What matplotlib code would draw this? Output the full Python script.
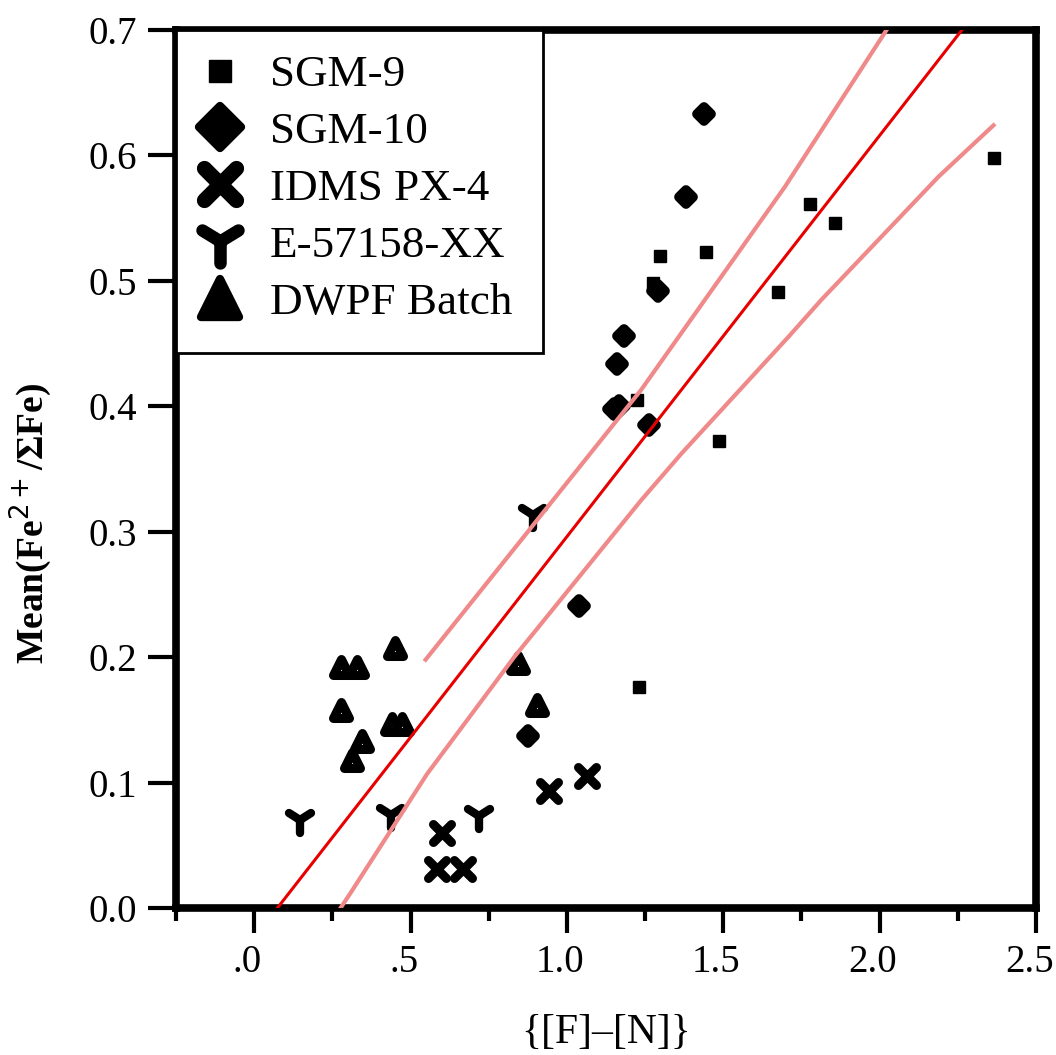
import matplotlib
matplotlib.use('Agg')
import matplotlib.pyplot as plt
from matplotlib.lines import Line2D
from matplotlib.markers import MarkerStyle
from matplotlib.patches import Rectangle
from matplotlib.transforms import ScaledTranslation

plt.rcParams['font.family'] = ['Liberation Serif', 'DejaVu Serif']

# data
sgm9_x = [2.365, 1.777, 1.857, 1.446, 1.296, 1.675, 1.486, 1.230, 1.275, 1.225]
sgm9_y = [0.598, 0.561, 0.546, 0.523, 0.520, 0.491, 0.372, 0.176, 0.498, 0.405]

sgm10_x = [1.438, 1.381, 1.290, 1.184, 1.160, 1.168, 1.150, 1.263, 1.040, 0.877]
sgm10_y = [0.633, 0.567, 0.492, 0.456, 0.434, 0.400, 0.398, 0.385, 0.241, 0.137]

idms_x = [1.064, 0.944, 0.599, 0.583, 0.667]
idms_y = [0.105, 0.0935, 0.060, 0.031, 0.031]

e57_x = [0.147, 0.436, 0.719, 0.890]
e57_y = [0.070, 0.074, 0.073, 0.313]

dwpf_x = [0.450, 0.276, 0.329, 0.276, 0.441, 0.473, 0.345, 0.313, 0.842, 0.904]
dwpf_y = [0.207, 0.192, 0.192, 0.158, 0.147, 0.147, 0.133, 0.118, 0.195, 0.162]

fit_x = [0.074, 2.263]
fit_y = [0.0, 0.700]

upper_x = [0.548, 1.237, 1.697, 2.022]
upper_y = [0.198, 0.413, 0.575, 0.700]

lower_x = [0.276, 0.308, 0.553, 0.831, 1.237, 1.365, 1.707, 1.814, 2.188, 2.364]
lower_y = [0.000, 0.012, 0.107, 0.200, 0.325, 0.362, 0.455, 0.485, 0.583, 0.624]

x_ticks = [0.0, 0.5, 1.0, 1.5, 2.0, 2.5]
x_labels = ['.0', '.5', '1.0', '1.5', '2.0', '2.5']
x_minor = [-0.25, 0.25, 0.75, 1.25, 1.75, 2.25]
y_ticks = [0.0, 0.1, 0.2, 0.3, 0.4, 0.5, 0.6, 0.7]
y_labels = ['0.0', '0.1', '0.2', '0.3', '0.4', '0.5', '0.6', '0.7']

names = ['SGM-9', 'SGM-10', 'IDMS PX-4', 'E-57158-XX', 'DWPF Batch']

fig = plt.figure(figsize=(10.56, 10.55), dpi=100)
ax = fig.add_axes([0.1667, 0.1393, 0.8144, 0.8323])

def mk(m):
    return MarkerStyle(m, joinstyle='round', capstyle='round')

ax.plot(sgm9_x, sgm9_y, ls='none', marker='s', ms=8.5, mfc='black', mec='black', mew=1)
ax.plot(sgm10_x, sgm10_y, ls='none', marker=mk('D'), ms=7.5, mfc='white', mec='black', mew=7)
ax.plot(idms_x, idms_y, ls='none', marker=mk('x'), ms=13, mec='black', mew=6.5)
ax.plot(e57_x, e57_y, ls='none', marker=mk('1'), ms=19, mec='black', mew=6)
ax.plot(dwpf_x, dwpf_y, ls='none', marker=mk('^'), ms=11, mfc='white', mec='black', mew=6.5)

ax.plot(upper_x, upper_y, color='#f08a8a', lw=3, zorder=4)
ax.plot(lower_x, lower_y, color='#f08a8a', lw=3, zorder=4)
ax.plot(fit_x, fit_y, color='#e80000', lw=2.2, zorder=5)

ax.set_xlim(-0.25, 2.5)
ax.set_ylim(0, 0.7)
ax.set_xticks(x_ticks)
ax.set_xticklabels(x_labels)
ax.set_xticks(x_minor, minor=True)
ax.set_yticks(y_ticks)
ax.set_yticklabels(y_labels)
ax.tick_params(axis='both', which='major', direction='out', width=3, labelsize=28, pad=8)
ax.tick_params(axis='x', which='major', length=18)
ax.tick_params(axis='y', which='major', length=20)
ax.tick_params(axis='x', which='minor', direction='out', width=3, length=9)
for s in ax.spines.values():
    s.set_linewidth(5.5)

shift = ScaledTranslation(-5 / 72, 0, fig.dpi_scale_trans)
for lab in ax.get_xticklabels():
    lab.set_transform(lab.get_transform() + shift)

ax.set_xlabel('{[F]–[N]}', fontsize=30)
ax.xaxis.set_label_coords(0.5, -0.12)
ax.set_ylabel('Mean(Fe$^{2+}$/ΣFe)', fontsize=27, fontweight='bold')
ax.yaxis.set_label_coords(-0.142, 0.438)

# legend box
box = Rectangle((0, 0.632), 0.427, 0.368, transform=ax.transAxes, facecolor='white',
                edgecolor='black', lw=2, zorder=6, clip_on=False)
ax.add_patch(box)

handles = [
    Line2D([], [], ls='none', marker='s', ms=16, mfc='black', mec='black'),
    Line2D([], [], ls='none', marker=mk('D'), ms=21, mfc='black', mec='black', mew=6),
    Line2D([], [], ls='none', marker=mk('x'), ms=23, mec='black', mew=11),
    Line2D([], [], ls='none', marker=mk('1'), ms=32, mec='black', mew=9),
    Line2D([], [], ls='none', marker=mk('^'), ms=27, mfc='black', mec='black', mew=6),
]
leg = ax.legend(handles, names, loc='upper left', bbox_to_anchor=(0.006, 0.982), fontsize=32.5,
                frameon=False, borderaxespad=0, borderpad=0.2,
                handlelength=1.3, handletextpad=0.46, labelspacing=0.36)
leg.set_zorder(7)

fig.savefig('out.png', dpi=100)
